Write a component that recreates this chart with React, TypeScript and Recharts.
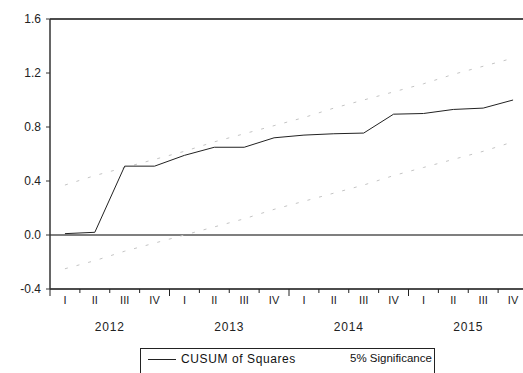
import { LineChart, Line, XAxis, YAxis, ReferenceLine } from 'recharts'

const years = ['2012', '2013', '2014', '2015']
const quarterLabels = ['I', 'II', 'III', 'IV', 'I', 'II', 'III', 'IV', 'I', 'II', 'III', 'IV', 'I', 'II', 'III', 'IV']
const cusumSq = [0.01, 0.02, 0.51, 0.51, 0.59, 0.65, 0.65, 0.72, 0.74, 0.75, 0.755, 0.895, 0.9, 0.93, 0.94, 1.0]
const upper5 = [0.37, 0.44, 0.5, 0.56, 0.62, 0.69, 0.75, 0.81, 0.87, 0.94, 1.0, 1.06, 1.12, 1.19, 1.25, 1.31]
const lower5 = [-0.25, -0.19, -0.12, -0.06, 0.0, 0.06, 0.12, 0.19, 0.25, 0.31, 0.37, 0.44, 0.5, 0.56, 0.62, 0.69]
const yTicks = [-0.4, 0, 0.4, 0.8, 1.2, 1.6]

const data = quarterLabels.map((q, i) => ({
  idx: i,
  quarter: q,
  cusum: cusumSq[i],
  upper: upper5[i],
  lower: lower5[i],
}))

const CHART_W = 535
const CHART_H = 373
const PLOT_LEFT = 50
const PLOT_RIGHT = 528
const PLOT_TOP = 19
const PLOT_BOTTOM = 289
const BAND = (PLOT_RIGHT - PLOT_LEFT) / quarterLabels.length

const font = '"Liberation Sans", Arial, sans-serif'

function QuarterTick(props: any) {
  const { x, y, payload } = props
  const i = payload.value as number
  const left = x - BAND / 2
  const yearStart = i % 4 === 0
  return (
    <g>
      <line x1={left} x2={left} y1={y} y2={y + (yearStart ? 7 : 4)} stroke="#222" strokeWidth={1} />
      {i === quarterLabels.length - 1 && (
        <line x1={left + BAND} x2={left + BAND} y1={y} y2={y + 7} stroke="#222" strokeWidth={1} />
      )}
      <text x={x} y={y + 15} textAnchor="middle" fontSize={11} fill="#222" fontFamily={font}>
        {quarterLabels[i]}
      </text>
      {i % 4 === 1 && (
        <text x={x + BAND / 2} y={y + 42} textAnchor="middle" fontSize={12} fill="#222" fontFamily={font} letterSpacing={0.8}>
          {years[Math.floor(i / 4)]}
        </text>
      )}
    </g>
  )
}

export default function App() {
  return (
    <div style={{ position: 'absolute', left: 0, top: 0, width: 523, height: 373, overflow: 'hidden', background: '#fff' }}>
      <LineChart
        width={CHART_W}
        height={CHART_H}
        data={data}
        margin={{ top: PLOT_TOP, right: CHART_W - PLOT_RIGHT, left: 0, bottom: 0 }}
      >
        <XAxis
          dataKey="idx"
          type="number"
          domain={[-0.5, 15.5]}
          ticks={data.map((d) => d.idx)}
          interval={0}
          height={CHART_H - PLOT_BOTTOM}
          axisLine={{ stroke: '#111', strokeWidth: 1.5 }}
          tickLine={false}
          tickSize={0}
          tickMargin={0}
          tick={<QuarterTick />}
        />
        <YAxis
          domain={[-0.4, 1.6]}
          ticks={yTicks}
          width={PLOT_LEFT}
          interval={0}
          axisLine={{ stroke: '#333', strokeWidth: 1.5 }}
          tickLine={{ stroke: '#333' }}
          tickSize={4}
          tickMargin={5}
          tickFormatter={(v: number) => v.toFixed(1)}
          tick={{ fill: '#222', fontSize: 12, fontFamily: font }}
        />
        <ReferenceLine y={1.6} stroke="#111" strokeWidth={1.5} />
        <ReferenceLine y={0} stroke="#555" strokeWidth={1.5} />
        <Line
          type="linear"
          dataKey="upper"
          stroke="#c4c4c4"
          strokeWidth={1}
          strokeDasharray="3 9"
          dot={false}
          isAnimationActive={false}
        />
        <Line
          type="linear"
          dataKey="lower"
          stroke="#c4c4c4"
          strokeWidth={1}
          strokeDasharray="3 9"
          dot={false}
          isAnimationActive={false}
        />
        <Line
          type="linear"
          dataKey="cusum"
          stroke="#222"
          strokeWidth={1}
          dot={false}
          isAnimationActive={false}
        />
      </LineChart>
      <div
        style={{
          position: 'absolute',
          left: 140,
          top: 348,
          width: 293,
          height: 30,
          border: '1px solid #222',
          fontFamily: font,
          fontSize: 12,
          color: '#111',
          whiteSpace: 'nowrap',
        }}
      >
        <div style={{ position: 'absolute', left: 7, top: 10, width: 28, borderTop: '1px solid #222' }} />
        <span style={{ position: 'absolute', left: 40, top: 3, letterSpacing: 0.6 }}>CUSUM of Squares</span>
        <span style={{ position: 'absolute', left: 209, top: 3, fontSize: 11.5 }}>5% Significance</span>
      </div>
    </div>
  )
}
